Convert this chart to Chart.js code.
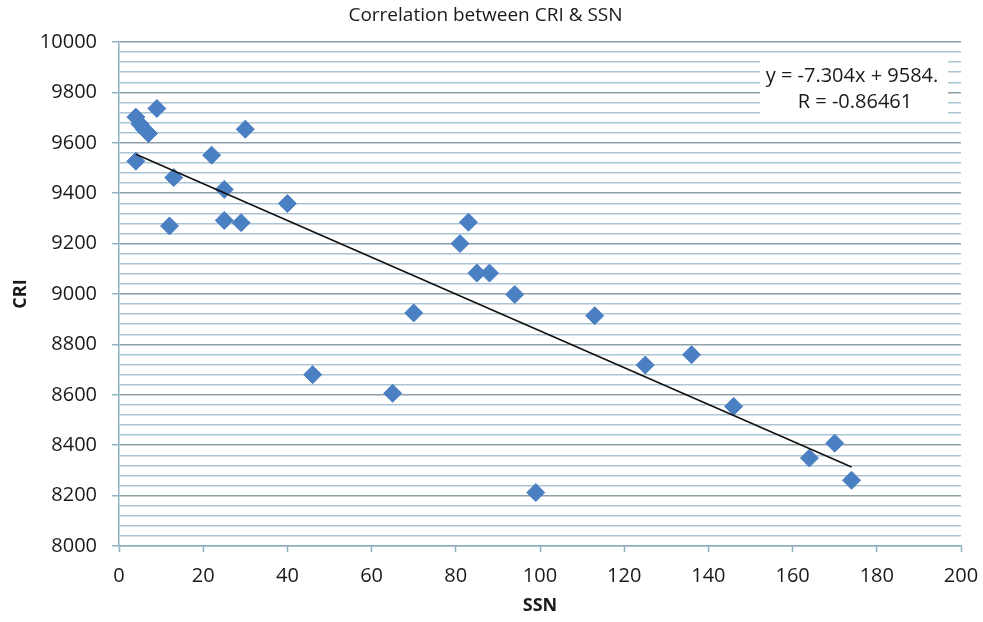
<!DOCTYPE html>
<html>
<head>
<meta charset="utf-8">
<title>Correlation between CRI & SSN</title>
<script src="https://cdn.jsdelivr.net/npm/chart.js@4.4.1/dist/chart.umd.min.js"></script>
<style>
  html, body { margin: 0; padding: 0; background: #ffffff; }
  canvas { display: block; }
</style>
</head>
<body>
<canvas id="corrChart" width="983" height="622"></canvas>
<script>
// values
const ssn = [4, 5, 6, 7, 9, 4, 30, 22, 13, 25, 12, 25, 29, 40, 46, 65, 70, 81, 83, 85, 88, 94, 99, 113, 125, 136, 146, 164, 170, 174];
const cri = [9702, 9674, 9654, 9637, 9736, 9527, 9654, 9551, 9462, 9415, 9270, 9292, 9283, 9359, 8680, 8606, 8925, 9200, 9285, 9083, 9083, 8998, 8212, 8914, 8718, 8759, 8554, 8349, 8408, 8261];

// trend line as printed on the chart
const slope = -7.304;
const intercept = 9584;
const equationLines = ['y = -7.304x + 9584.', 'R = -0.86461'];

const xTicks = { min: 0, max: 200, step: 20 };
const yTicks = { min: 8000, max: 10000, step: 40, major: 200 };

const FONT = '"Open Sans", "DejaVu Sans", sans-serif';
const TEXT = '#1a1a1a';
const MINOR_GRID = '#a9c4d2';
const MAJOR_GRID = '#8d9fa7';
const AXIS = '#8fb2c2';
const MARKER = '#4a7fc2';

const points = ssn.map((x, i) => ({ x: x, y: cri[i] }));
const xMin = Math.min(...ssn);
const xMax = Math.max(...ssn);
const trend = [xMin, xMax].map(x => ({ x: x, y: slope * x + intercept }));

// white box with the regression text, top right of the plot
const equationBox = {
  id: 'equationBox',
  afterDatasetsDraw(chart) {
    const ctx = chart.ctx;
    const area = chart.chartArea;
    const right = area.right - 13;
    const left = right - 188;
    const top = area.top + 18;
    const h = 55;
    ctx.save();
    ctx.fillStyle = '#ffffff';
    ctx.fillRect(left, top, right - left, h);
    ctx.fillStyle = TEXT;
    ctx.font = '20px ' + FONT;
    ctx.textAlign = 'center';
    ctx.textBaseline = 'middle';
    const cx = (left + right) / 2;
    ctx.fillText(equationLines[0], cx - 2, top + 16);
    ctx.fillText(equationLines[1], cx + 1, top + 42);
    ctx.restore();
  }
};

new Chart(document.getElementById('corrChart'), {
  type: 'scatter',
  data: {
    datasets: [{
      label: 'CRI',
      data: points,
      pointStyle: 'rectRot',
      pointRadius: 9,
      pointHoverRadius: 9,
      backgroundColor: MARKER,
      borderColor: MARKER,
      borderWidth: 1,
      order: 2
    }, {
      type: 'line',
      label: 'Trend',
      data: trend,
      borderColor: '#111111',
      borderWidth: 1.6,
      pointRadius: 0,
      fill: false,
      order: 1
    }]
  },
  options: {
    responsive: false,
    devicePixelRatio: 1,
    animation: false,
    layout: { padding: { left: 10, right: 22, top: 0, bottom: 0 } },
    plugins: {
      legend: { display: false },
      tooltip: { enabled: false },
      title: {
        display: true,
        text: 'Correlation between CRI & SSN',
        color: TEXT,
        font: { family: FONT, size: 19, weight: 'normal' },
        padding: { top: 4, bottom: 15.2 }
      }
    },
    scales: {
      x: {
        type: 'linear',
        min: xTicks.min,
        max: xTicks.max,
        afterFit(scale) {
          scale.height = 76;
          scale.paddingLeft = 0;
          scale.paddingRight = 0;
        },
        ticks: {
          stepSize: xTicks.step,
          color: TEXT,
          padding: 12,
          font: { family: FONT, size: 20 },
          maxRotation: 0
        },
        grid: {
          drawOnChartArea: false,
          drawTicks: true,
          tickLength: 6,
          tickColor: AXIS,
          tickWidth: 1.5
        },
        border: { display: true, color: AXIS, width: 1.5 },
        title: {
          display: true,
          text: 'SSN',
          color: TEXT,
          font: { family: FONT, size: 18, weight: 'bold' },
          padding: { top: 0, bottom: 5 }
        }
      },
      y: {
        type: 'linear',
        min: yTicks.min,
        max: yTicks.max,
        afterFit(scale) {
          scale.width = 109;
          scale.paddingTop = 0;
          scale.paddingBottom = 0;
        },
        ticks: {
          stepSize: yTicks.step,
          autoSkip: false,
          color: TEXT,
          padding: 15,
          font: { family: FONT, size: 20 },
          callback: v => (v % yTicks.major === 0 ? v : '')
        },
        grid: {
          lineWidth: 1.5,
          tickLength: 7,
          tickWidth: 1.5,
          color: c => (c.tick && c.tick.value % yTicks.major === 0 ? MAJOR_GRID : MINOR_GRID),
          tickColor: c => (c.tick && c.tick.value % yTicks.major === 0 ? AXIS : 'transparent')
        },
        border: { display: true, color: AXIS, width: 1.5 },
        title: {
          display: true,
          text: 'CRI',
          color: TEXT,
          font: { family: FONT, size: 18, weight: 'bold' },
          padding: { top: 0, bottom: 0 }
        }
      }
    }
  },
  plugins: [equationBox]
});
</script>
</body>
</html>
